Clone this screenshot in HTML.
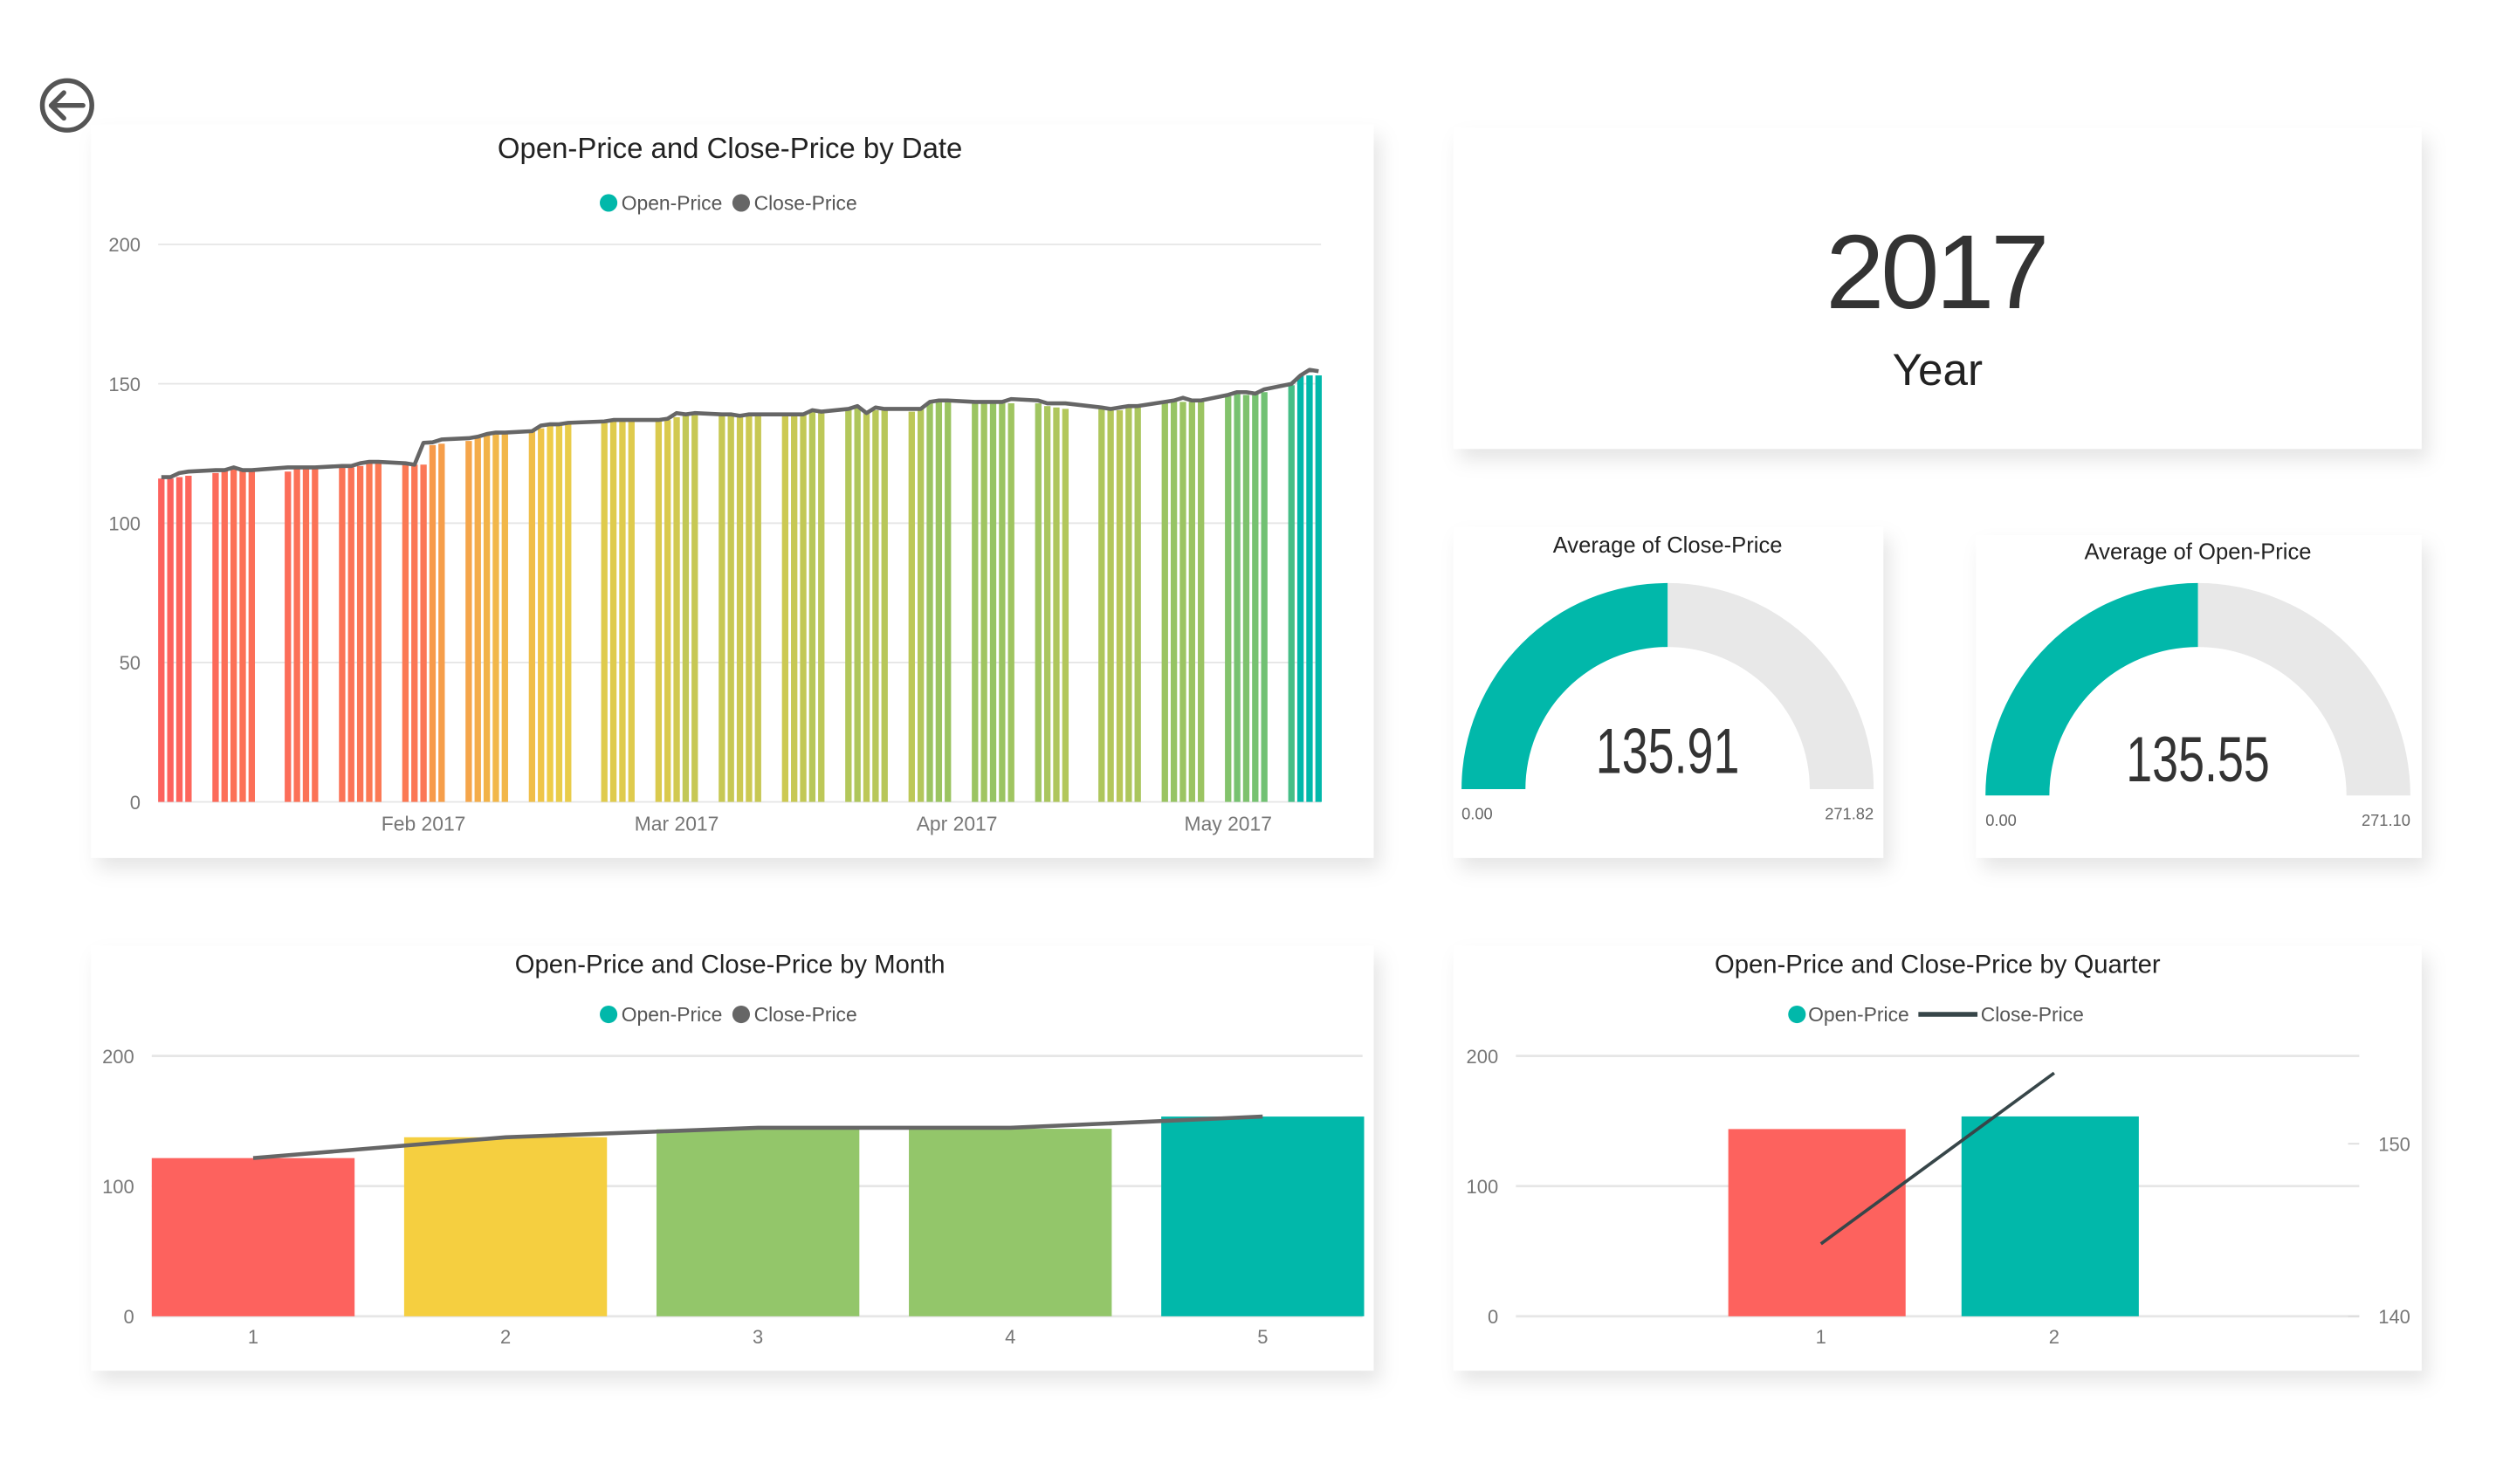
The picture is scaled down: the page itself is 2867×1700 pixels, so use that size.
<!DOCTYPE html>
<html><head><meta charset="utf-8"><style>
html,body{margin:0;padding:0;background:#fff;}
svg{display:block;font-family:"Liberation Sans",sans-serif;}
</style></head><body>
<svg id="root" width="2867" height="1700" viewBox="0 0 1567 929" preserveAspectRatio="none" xmlns="http://www.w3.org/2000/svg">
<defs>
<filter id="sh" x="-10%" y="-10%" width="130%" height="140%"><feDropShadow dx="4" dy="7" stdDeviation="6" flood-color="#000" flood-opacity="0.10"/></filter>
</defs>
<g>
<circle cx="42" cy="66" r="15.5" fill="none" stroke="#555" stroke-width="3"/>
<path d="M52 66 H32 M40 58 L32 66 L40 74" fill="none" stroke="#555" stroke-width="3" stroke-linecap="round" stroke-linejoin="round"/>
</g>
<rect x="57" y="78" width="803" height="459" fill="#fff" filter="url(#sh)"/>
<rect x="910" y="80" width="606" height="201" fill="#fff" filter="url(#sh)"/>
<rect x="910" y="330" width="269" height="207" fill="#fff" filter="url(#sh)"/>
<rect x="1237" y="335" width="279" height="202" fill="#fff" filter="url(#sh)"/>
<rect x="57" y="592" width="803" height="266" fill="#fff" filter="url(#sh)"/>
<rect x="910" y="592" width="606" height="266" fill="#fff" filter="url(#sh)"/>

<text x="457" y="99" text-anchor="middle" font-size="18" fill="#222">Open-Price and Close-Price by Date</text>
<g font-size="12.5" fill="#555">
<circle cx="381" cy="127" r="5.5" fill="#01B8AA"/><text x="389" y="131.5">Open-Price</text>
<circle cx="464" cy="127" r="5.5" fill="#666"/><text x="472" y="131.5">Close-Price</text>
</g>
<g id="dateChart"></g>

<text x="1213" y="193" text-anchor="middle" font-size="66" fill="#333" textLength="140">2017</text>
<text x="1213" y="241" text-anchor="middle" font-size="28" fill="#222">Year</text>

<text x="1044" y="346" text-anchor="middle" font-size="14" fill="#222">Average of Close-Price</text>
<text x="1376" y="350" text-anchor="middle" font-size="14" fill="#222">Average of Open-Price</text>
<g id="gauges"></g>

<text x="457" y="609" text-anchor="middle" font-size="16" fill="#222">Open-Price and Close-Price by Month</text>
<g font-size="12.5" fill="#555">
<circle cx="381" cy="635" r="5.5" fill="#01B8AA"/><text x="389" y="639.5">Open-Price</text>
<circle cx="464" cy="635" r="5.5" fill="#666"/><text x="472" y="639.5">Close-Price</text>
</g>
<g id="monthChart"></g>

<text x="1213" y="609" text-anchor="middle" font-size="16" fill="#222">Open-Price and Close-Price by Quarter</text>
<g font-size="12.5" fill="#555">
<circle cx="1125" cy="635" r="5.5" fill="#01B8AA"/><text x="1132" y="639.5">Open-Price</text>
<line x1="1201" y1="635" x2="1238" y2="635" stroke="#374649" stroke-width="3"/><text x="1240" y="639.5">Close-Price</text>
</g>
<g id="quarterChart"></g>
</svg>
<script>
const NS="http://www.w3.org/2000/svg";
// ---- Date chart data ----
const dates=["01-03","01-04","01-05","01-06","01-09","01-10","01-11","01-12","01-13","01-17","01-18","01-19","01-20","01-23","01-24","01-25","01-26","01-27","01-30","01-31",
"02-01","02-02","02-03","02-06","02-07","02-08","02-09","02-10","02-13","02-14","02-15","02-16","02-17","02-21","02-22","02-23","02-24","02-27","02-28",
"03-01","03-02","03-03","03-06","03-07","03-08","03-09","03-10","03-13","03-14","03-15","03-16","03-17","03-20","03-21","03-22","03-23","03-24","03-27","03-28","03-29","03-30","03-31",
"04-03","04-04","04-05","04-06","04-07","04-10","04-11","04-12","04-13","04-17","04-18","04-19","04-20","04-21","04-24","04-25","04-26","04-27","04-28",
"05-01","05-02","05-03","05-04","05-05","05-08","05-09","05-10","05-11"];
const openPrice=[116,116,116.5,117,118,119,119.5,119.5,119,118.5,119.5,120,120,120,120,120.5,121.5,121.5,121.5,121,
121,128,128.5,129.5,130.5,131.5,132,132,133,134,135,135.5,135.5,136.5,136.5,136.5,136.5,137,137,
138,139.5,139,139,139,138.5,138.5,139,138.5,139,139.5,140.5,140,141,141.5,140,140.5,140.5,140,141,143.5,143.5,143.5,
143.5,143,144,143.5,143,143,142,141.5,141,141.5,141,140.5,141.5,142,143.5,144,143.5,143.5,143.5,
145.5,146.5,146,146.5,147,149.5,153,153,153];
const closePrice=[116.5,116.5,118,118.5,119,119,120,119,119,120,120,120,120,120.5,120.5,121.5,122,122,121.5,121,
128.8,129,130,130.5,131,132,132.5,132.5,133,135,135.5,135.5,136,136.5,137,137,137,137,137.5,
139.5,139,139.5,139,139,138.5,139,139,139,139,139,140.5,140,141,142,139.5,141.5,141,141,141,143.5,144,144,
143.5,143.5,143.5,143.5,144.5,144,143,143,143,141.5,141,141.5,142,142,143.5,144,145,144,144,
146,147,147,146.5,148,150,153,155,154.5];
const dateTicks=[0,50,100,150,200];
const monthTicks=[["Feb 2017","02-01"],["Mar 2017","03-01"],["Apr 2017","04-01"],["May 2017","05-01"]];
// ---- Month chart data ----
const months=["1","2","3","4","5"];
const monthOpen=[121.5,137.5,143.6,144,153.4];
const monthClose=[121.5,137.5,144.8,144.8,153.4];
const monthTickVals=[0,100,200];
// ---- Quarter chart data ----
const quarters=["1","2"];
const quarterOpen=[143.8,153.5];
const quarterClose=[144.2,154.1];
const quarterLeftTicks=[0,100,200];
const quarterRightTicks=[140,150];
// ---- Gauge data ----
const gaugeValues=[135.91,135.55];
const gaugeMax=[271.82,271.10];

function el(tag,attrs,parent,txt){const e=document.createElementNS(NS,tag);for(const k in attrs)e.setAttribute(k,attrs[k]);if(txt!==undefined)e.textContent=txt;parent.appendChild(e);return e;}
function lerp(a,b,t){return a.map((v,i)=>Math.round(v+(b[i]-v)*t));}
const stops=[[116,[253,98,94]],[126,[249,140,75]],[135,[238,204,72]],[144,[150,196,100]],[148,[100,192,120]],[153,[1,184,170]]];
function colorFor(v){if(v<=stops[0][0])return `rgb(${stops[0][1]})`;for(let i=1;i<stops.length;i++){if(v<=stops[i][0]){const t=(v-stops[i-1][0])/(stops[i][0]-stops[i-1][0]);return `rgb(${lerp(stops[i-1][1],stops[i][1],t)})`;}}return `rgb(${stops[stops.length-1][1]})`;}

// Date chart
(function(){
 const g=document.getElementById('dateChart');
 const y=v=>502-v*349/200;
 const day=s=>{const [m,d]=s.split('-').map(Number);return (Date.UTC(2017,m-1,d)-Date.UTC(2017,0,3))/86400000;};
 const x=s=>101+day(s)*5.66;
 dateTicks.forEach(t=>{
  const l=el('line',{x1:99,x2:827,y1:y(t),y2:y(t),stroke:'#e6e6e6','stroke-width':1},g);
  
  
  const tx=el('text',{x:88,y:y(t)+4.5,'text-anchor':'end','font-size':12,fill:'#777'},g,String(t));
  
  
 });
 monthTicks.forEach(m=>{
  const tx=el('text',{x:x(m[1]),y:520,'text-anchor':'middle','font-size':12.5,fill:'#777'},g,m[0]);
  
  
 });
 dates.forEach((d,i)=>{
  const b=el('rect',{x:x(d)-2,y:y(openPrice[i]),width:4,height:502-y(openPrice[i]),fill:colorFor(openPrice[i])},g);
  
  
 });
 const pts=dates.map((d,i)=>x(d).toFixed(1)+','+y(closePrice[i]).toFixed(1)).join(' ');
 const pl=el('polyline',{points:pts,fill:'none',stroke:'#666','stroke-width':2.5,'stroke-linejoin':'round'},g);
 
 
})();

// Gauges
(function(){
 const g=document.getElementById('gauges');
 const cfg=[{cx:1044,cy:494,ro:129,ri:89,vy:484,ly:513,name:'close'},{cx:1376,cy:498,ro:133,ri:93,vy:489,ly:517,name:'open'}];
 cfg.forEach((c,i)=>{
  const arc=(a0,a1)=>{const p=(r,a)=>[c.cx+r*Math.cos(a),c.cy-r*Math.sin(a)];
   const [x0,y0]=p(c.ro,a0),[x1,y1]=p(c.ro,a1),[x2,y2]=p(c.ri,a1),[x3,y3]=p(c.ri,a0);
   return `M${x0} ${y0} A${c.ro} ${c.ro} 0 0 1 ${x1} ${y1} L${x2} ${y2} A${c.ri} ${c.ri} 0 0 0 ${x3} ${y3} Z`;};
  const split=Math.PI*(1-gaugeValues[i]/gaugeMax[i]);
  const bg=el('path',{d:arc(split,0),fill:'#e8e8e8'},g);
  
  
  const fg=el('path',{d:arc(Math.PI,split),fill:'#01B8AA'},g);
  
  
  const v=el('text',{x:c.cx,y:c.vy,'text-anchor':'middle','font-size':40,fill:'#333',textLength:90,lengthAdjust:'spacingAndGlyphs'},g,gaugeValues[i].toFixed(2));
  
  
  const mn=el('text',{x:c.cx-c.ro,y:c.ly,'font-size':10,fill:'#666'},g,'0.00');
  
  
  const mx=el('text',{x:c.cx+c.ro,y:c.ly,'text-anchor':'end','font-size':10,fill:'#666'},g,gaugeMax[i].toFixed(2));
  
  
 });
})();

// Month chart
(function(){
 const g=document.getElementById('monthChart');
 const y=v=>824-v*163/200;
 const band=158,x0=95;
 const cols=['#FD625E','#F5CF40','#93C66A','#93C66A','#01B8AA'];
 monthTickVals.forEach(t=>{
  const l=el('line',{x1:95,x2:853,y1:y(t),y2:y(t),stroke:'#e6e6e6','stroke-width':1.5},g);
  
  
  const tx=el('text',{x:84,y:y(t)+4.5,'text-anchor':'end','font-size':12,fill:'#777'},g,String(t));
  
  
 });
 months.forEach((m,i)=>{
  const b=el('rect',{x:x0+i*band,y:y(monthOpen[i]),width:127,height:824-y(monthOpen[i]),fill:cols[i]},g);
  
  
  const tx=el('text',{x:x0+i*band+63.5,y:841,'text-anchor':'middle','font-size':12,fill:'#777'},g,m);
  
  
 });
 const pts=months.map((m,i)=>(x0+i*band+63.5)+','+y(monthClose[i])).join(' ');
 const pl=el('polyline',{points:pts,fill:'none',stroke:'#666','stroke-width':2.5},g);
 
 
})();

// Quarter chart
(function(){
 const g=document.getElementById('quarterChart');
 const y=v=>824-v*163/200;
 const yr=v=>824-(v-140)*10.8;
 const xs=[1082,1228];
 const cols=['#FD625E','#01B8AA'];
 quarterLeftTicks.forEach(t=>{
  const l=el('line',{x1:949,x2:1477,y1:y(t),y2:y(t),stroke:'#e6e6e6','stroke-width':1.5},g);
  
  
  const tx=el('text',{x:938,y:y(t)+4.5,'text-anchor':'end','font-size':12,fill:'#777'},g,String(t));
  
  
 });
 quarterRightTicks.forEach(t=>{
  const l=el('line',{x1:1470,x2:1477,y1:yr(t),y2:yr(t),stroke:'#ddd','stroke-width':1},g);
  
  
  const tx=el('text',{x:1489,y:yr(t)+4.5,'font-size':12,fill:'#777'},g,String(t));
  
  
 });
 quarters.forEach((q,i)=>{
  const b=el('rect',{x:xs[i],y:y(quarterOpen[i]),width:111,height:824-y(quarterOpen[i]),fill:cols[i]},g);
  
  
  const tx=el('text',{x:xs[i]+58,y:841,'text-anchor':'middle','font-size':12,fill:'#777'},g,q);
  
  
 });
 const pts=quarters.map((q,i)=>(xs[i]+58)+','+yr(quarterClose[i])).join(' ');
 const pl=el('polyline',{points:pts,fill:'none',stroke:'#374649','stroke-width':2},g);
 
 
})();
</script>
</body></html>
